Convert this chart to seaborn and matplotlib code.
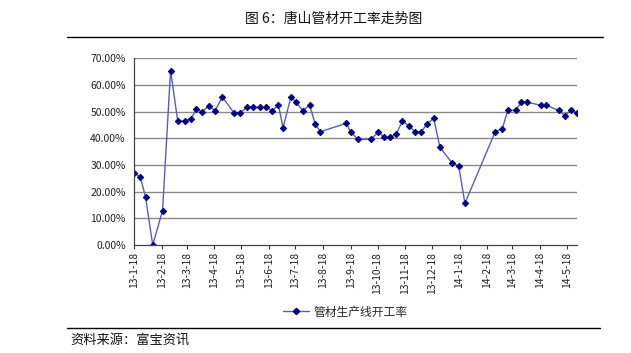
import matplotlib
matplotlib.use("Agg")
import matplotlib.pyplot as plt
import matplotlib.dates as mdates
from matplotlib.lines import Line2D
from matplotlib.ticker import FuncFormatter
import seaborn as sns
import pandas as pd
import numpy as np

sns.set_style("white")
plt.rcParams['font.family'] = ['Noto Sans CJK SC', 'DejaVu Sans']

title = "图 6：唐山管材开工率走势图"
source = "资料来源：富宝资讯"
series_name = "管材生产线开工率"

start_date = "2013-01-18"
day_offsets = [0, 7, 13, 21, 32, 41, 49, 57, 64, 70, 76, 84, 91, 99, 112,
               119, 127, 133, 141, 148, 155, 162, 167, 176, 182, 189, 197, 203, 209, 238,
               243, 251, 266, 274, 280, 287, 294, 301, 308, 315, 322, 329, 336, 343, 357,
               364, 371, 405, 413, 419, 428, 434, 441, 456, 462, 476, 483, 490, 497]
rates = [26.9, 25.6, 17.9, 0.0, 12.9, 65.4, 46.5, 46.5, 47.4, 51.0, 49.9, 52.1, 50.4, 55.5, 49.6,
         49.6, 51.6, 51.6, 51.6, 51.6, 50.4, 52.4, 44.0, 55.5, 53.5, 50.4, 52.4, 45.5, 42.5, 45.6,
         42.5, 39.6, 39.6, 42.5, 40.4, 40.4, 41.5, 46.6, 44.6, 42.5, 42.5, 45.5, 47.5, 36.6, 30.6,
         29.75, 15.6, 42.5, 43.6, 50.5, 50.5, 53.5, 53.5, 52.4, 52.4, 50.5, 48.5, 50.5, 49.6]
tick_labels = ["13-1-18", "13-2-18", "13-3-18", "13-4-18", "13-5-18", "13-6-18", "13-7-18",
               "13-8-18", "13-9-18", "13-10-18", "13-11-18", "13-12-18", "14-1-18", "14-2-18",
               "14-3-18", "14-4-18", "14-5-18"]
y_ticks = [0, 10, 20, 30, 40, 50, 60, 70]

t0 = pd.Timestamp(start_date)
df = pd.DataFrame({"date": [t0 + pd.Timedelta(days=d) for d in day_offsets], "rate": rates})
tick_dates = [pd.Timestamp(f"20{s.split('-')[0]}-{int(s.split('-')[1]):02d}-18") for s in tick_labels]

W, H = 631, 353
fig = plt.figure(figsize=(W / 100, H / 100), dpi=100)
ax = fig.add_axes([134 / W, 1 - 245 / H, (577.3 - 134) / W, (245 - 58.3) / H])

line_col = "#5b5bb8"
mark_col = "#000080"
sns.lineplot(data=df, x="date", y="rate", ax=ax, color=line_col, linewidth=1.0,
             marker="D", markersize=3.2, markerfacecolor=mark_col, markeredgecolor=mark_col,
             legend=False)

ax.set_xlim(t0, t0 + pd.Timedelta(days=day_offsets[-1]))
ax.set_ylim(0, 70)
ax.set_yticks(y_ticks)
ax.yaxis.set_major_formatter(FuncFormatter(lambda v, p: f"{v:.2f}%"))
ax.set_xticks(tick_dates)
ax.set_xticklabels(tick_labels, rotation=90, fontsize=7.5, color="#222222")
ax.tick_params(axis="y", labelsize=7.5, colors="#222222", length=0, pad=6)
ax.tick_params(axis="x", direction="out", length=3, width=0.8, color="#333333", pad=2,
               bottom=True)
ax.set_xlabel("")
ax.set_ylabel("")
ax.grid(False)
for yv in y_ticks[1:]:
    ax.axhline(yv, color="#8a8a8a", linewidth=1.0, zorder=0)
for s in ["top", "right"]:
    ax.spines[s].set_visible(False)
for s in ["left", "bottom"]:
    ax.spines[s].set_color("#444444")
    ax.spines[s].set_linewidth(0.9)

# title and rules
fig.text(334 / W, 1 - 19 / H, title, ha="center", va="center", fontsize=10, color="#111111")
fig.add_artist(Line2D([67 / W, 603 / W], [1 - 37 / H, 1 - 37 / H], color="black", linewidth=1.0))
fig.add_artist(Line2D([67 / W, 600 / W], [1 - 328 / H, 1 - 328 / H], color="black", linewidth=1.0))
fig.text(70 / W, 1 - 340 / H, source, ha="left", va="center", fontsize=9.5, color="#111111")

handle = Line2D([], [], color=line_col, linewidth=1.0, marker="D", markersize=3.2,
                markerfacecolor=mark_col, markeredgecolor=mark_col)
fig.legend([handle], [series_name], loc="center", bbox_to_anchor=(345 / W, 1 - 312 / H),
           frameon=False, fontsize=8.5, handlelength=2.2, handletextpad=0.4)

fig.savefig("out.png", dpi=100)
